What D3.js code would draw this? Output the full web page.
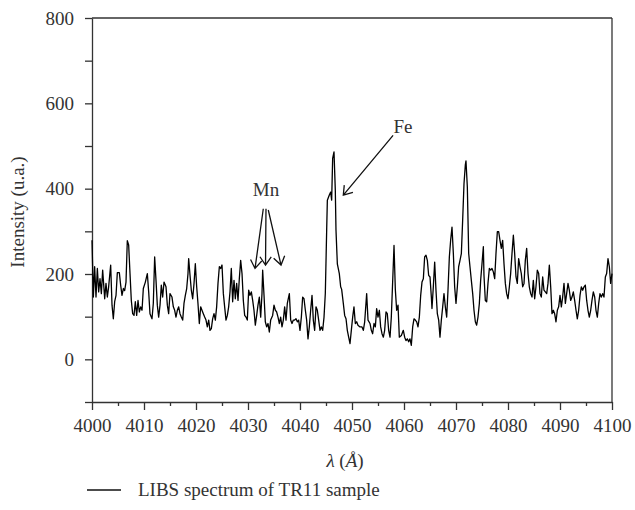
<!DOCTYPE html>
<html><head><meta charset="utf-8">
<script src="https://cdn.jsdelivr.net/npm/d3@7"></script>
<style>body{margin:0;background:#fff}</style>
</head><body>
<svg id="c" width="635" height="510"></svg>
<script>
const wavelength = [
4000.0,4000.26,4000.51,4000.77,4001.03,4001.28,4001.54,4001.8,4002.05,4002.44,4002.69,4002.95,4003.2,4003.59,4003.85,4004.1,4004.36,4004.62,4004.87,4005.26,4005.51,4005.77,4006.03,4006.28,4006.54,4006.79,4007.05,4007.31,4007.56,4007.82,4008.08,4008.33,4008.59,4008.85,4009.1,4009.36,4009.62,4009.87,4010.26,4010.64,4010.9,4011.15,4011.54,4011.79,4012.05,4012.31,4012.56,4012.82,4013.08,4013.33,4013.59,4013.85,4014.23,4014.49,4014.74,4015.0,4015.38,4015.64,4015.9,4016.15,4016.41,4016.67,4016.92,4017.18,4017.44,4017.69,4017.95,4018.21,4018.46,4018.59,4018.85,4019.1,4019.36,4019.62,4019.87,4020.13,4020.38,4020.64,4020.9,4021.15,4021.41,4021.67,4021.92,4022.18,4022.44,4022.69,4022.95,4023.2,4023.46,4023.72,4023.97,4024.23,4024.49,4024.74,4025.0,
4025.26,4025.51,4025.77,4026.03,4026.28,4026.54,4026.79,4027.05,4027.31,4027.56,4027.82,4028.08,4028.33,4028.59,4028.85,4029.1,4029.36,4029.62,4029.87,4030.13,4030.38,4030.64,4030.9,4031.15,4031.41,4031.67,4031.92,4032.18,4032.44,4032.69,4032.82,4033.08,4033.33,4033.59,4033.85,4034.1,4034.36,4034.74,4035.0,4035.26,4035.51,4035.77,4036.03,4036.28,4036.54,4036.79,4037.05,4037.31,4037.56,4037.95,4038.21,4038.46,4038.72,4038.97,4039.23,4039.49,4039.74,4040.0,4040.26,4040.51,4040.77,4041.03,4041.28,4041.54,4041.79,4042.05,4042.31,4042.56,4042.82,4043.08,4043.33,4043.59,4043.85,4044.1,4044.36,4044.62,4044.87,
4045.13,4045.26,4045.64,4045.9,4046.09,4046.28,4046.54,4046.79,4046.92,4047.18,4047.56,4047.82,4048.01,4048.33,4048.59,4048.85,4049.1,4049.36,4049.62,4049.87,4050.13,4050.38,4050.64,4050.9,4051.15,4051.54,4051.92,4052.18,4052.44,4052.82,4053.08,4053.46,4053.72,4053.97,4054.23,4054.49,4054.74,4055.0,4055.26,4055.51,4055.77,4056.03,4056.28,4056.54,4056.79,4057.05,4057.31,4057.56,4057.95,4058.08,4058.33,4058.59,4058.85,4059.1,4059.49,4059.87,4060.13,4060.38,4060.64,4060.9,4061.15,
4061.41,4061.67,4061.92,4062.18,4062.44,4062.69,4062.95,4063.21,4063.46,4063.72,4063.97,4064.23,4064.49,4064.74,4065.0,4065.26,4065.38,4065.64,4065.9,4066.15,4066.41,4066.67,4066.92,4067.18,4067.44,4067.69,4067.95,4068.21,4068.46,4068.72,4068.97,4069.23,4069.49,4069.74,4070.0,4070.26,4070.51,4070.77,4071.03,4071.28,4071.54,4071.79,4071.92,4072.18,4072.44,4072.69,4072.95,4073.21,4073.46,4073.72,4073.97,4074.23,4074.49,4074.74,4075.0,4075.26,
4075.38,4075.64,4075.9,4076.15,4076.41,4076.67,4076.92,4077.18,4077.44,4077.69,4077.95,4078.21,4078.46,4078.72,4078.97,4079.23,4079.49,4079.74,4080.0,4080.26,4080.51,4080.77,4081.03,4081.28,4081.54,4081.79,4082.05,4082.31,4082.56,4082.82,4083.08,4083.33,4083.59,4083.85,4084.1,4084.36,4084.62,4084.87,4085.13,4085.38,4085.64,4085.9,4086.15,4086.41,4086.67,4086.92,4087.18,4087.44,4087.69,4087.95,4088.21,4088.46,4088.72,4088.97,4089.23,4089.49,4089.74,4090.0,4090.26,4090.51,4090.77,4091.03,4091.28,4091.54,4091.79,4092.05,4092.31,4092.56,4092.82,4093.08,4093.33,4093.59,4093.85,4094.1,4094.36,4094.62,4094.87,4095.13,4095.38,4095.64,4095.9,4096.15,4096.41,4096.67,4096.92,4097.18,4097.44,4097.69,4097.95,4098.21,4098.46,4098.72,4098.97,4099.23,4099.49,4099.74,4100.0
];
const intensity = [
279,146,217,146,213,158,189,154,209,142,178,146,170,221,127,95,135,150,203,203,174,150,166,161,181,278,268,201,138,107,103,135,103,138,111,123,115,166,181,201,158,107,95,131,240,185,127,99,127,174,146,181,170,127,107,154,146,123,115,99,115,123,107,99,92,131,150,166,201,236,197,162,142,178,224,170,131,84,123,115,107,99,92,76,92,68,72,95,107,92,123,178,217,213,221,
154,123,92,103,123,158,213,135,185,142,178,138,189,232,201,138,103,99,92,162,150,158,138,115,80,103,127,146,99,154,209,150,88,76,84,64,92,103,127,115,111,99,84,99,76,92,123,92,131,154,92,84,92,92,95,88,92,68,99,146,142,115,92,48,76,115,150,92,68,123,115,92,68,76,68,99,155,
303,373,385,392,373,471,486,396,303,224,201,170,164,131,103,95,68,52,37,68,99,123,84,88,80,76,76,68,88,154,92,84,68,60,84,76,119,99,115,76,60,52,68,111,107,68,52,99,224,267,164,115,127,52,56,68,52,44,48,41,48,
33,76,95,92,88,76,99,150,181,189,240,244,232,197,193,146,119,170,228,162,107,92,52,92,123,154,123,99,162,240,279,310,248,170,131,170,217,232,248,326,412,455,465,404,248,217,185,154,115,88,80,99,131,185,224,264,
197,138,135,178,213,209,213,205,189,248,299,299,279,260,279,224,178,154,142,170,201,248,291,248,193,178,236,217,201,170,178,232,260,201,170,154,146,185,142,170,209,201,154,146,193,162,158,154,178,221,170,107,115,107,88,115,123,150,123,146,178,131,154,178,162,138,146,158,138,115,95,115,150,170,162,170,174,138,115,99,115,138,158,146,115,99,131,154,146,154,146,193,201,236,217,178,201
];
const xMajorTicks = [4000,4010,4020,4030,4040,4050,4060,4070,4080,4090,4100];
const xMinorTicks = [4005,4015,4025,4035,4045,4055,4065,4075,4085,4095];
const yTicks = [-100,0,100,200,300,400,500,600,700,800];
const yLabelTicks = [0,200,400,600,800];
const mnArrows = [
  {from:[4032.94,353], to:[4031.35,213]},
  {from:[4033.46,353], to:[4033.37,221]},
  {from:[4033.90,350], to:[4036.35,221]}
];
const feArrow = {from:[4057.9,525], to:[4048.33,385]};
const labels = [
  {text:"Mn", at:[4033.46,382]},
  {text:"Fe", at:[4059.8,530]}
];

const svg = d3.select("#c");
const x = d3.scaleLinear().domain([4000,4100]).range([92,612]);
const y = d3.scaleLinear().domain([-100,800]).range([402,18]);
const font = "'Liberation Serif','Times New Roman',serif";
const axisColor = "#333";
const textColor = "#333";
const fs = 19;

// frame top and right
svg.append("line").attr("x1",x(4000)).attr("x2",x(4100)).attr("y1",y(800)).attr("y2",y(800)).attr("stroke",axisColor).attr("stroke-width",1.3);
svg.append("line").attr("x1",x(4100)).attr("x2",x(4100)).attr("y1",y(800)).attr("y2",y(-100)).attr("stroke",axisColor).attr("stroke-width",1.3);

// left axis
svg.append("g").attr("transform",`translate(${x(4000)},0)`)
  .call(d3.axisLeft(y).tickValues(yTicks).tickSize(7).tickSizeOuter(0).tickPadding(11)
    .tickFormat(d => yLabelTicks.includes(d) ? d : ""));
// bottom axis major + minor
svg.append("g").attr("transform",`translate(0,${y(-100)})`)
  .call(d3.axisBottom(x).tickValues(xMajorTicks).tickSize(8).tickSizeOuter(0).tickPadding(9).tickFormat(d3.format("d")));
svg.append("g").attr("transform",`translate(0,${y(-100)})`)
  .call(d3.axisBottom(x).tickValues(xMinorTicks).tickSize(4).tickSizeOuter(0).tickFormat(""))
  .select(".domain").remove();
svg.selectAll(".tick line, .domain").attr("stroke",axisColor).attr("stroke-width",1.3);
svg.selectAll(".tick text").attr("font-family",font).attr("font-size",fs).attr("fill",textColor);

// spectrum
const pts = wavelength.map((w,i)=>[w,intensity[i]]);
svg.append("path").datum(pts)
  .attr("d", d3.line().x(d=>x(d[0])).y(d=>y(d[1])))
  .attr("fill","none").attr("stroke","#000").attr("stroke-width",1.3).attr("stroke-linejoin","round");

// arrows
function arrow(a){
  const x1=x(a.from[0]), y1=y(a.from[1]), x2=x(a.to[0]), y2=y(a.to[1]);
  const ang=Math.atan2(y1-y2,x1-x2), L=10, h=0.6;
  const p1=[x2+L*Math.cos(ang+h), y2+L*Math.sin(ang+h)];
  const p2=[x2+L*Math.cos(ang-h), y2+L*Math.sin(ang-h)];
  svg.append("path").attr("d",`M${x1},${y1}L${x2},${y2}M${p1[0]},${p1[1]}L${x2},${y2}L${p2[0]},${p2[1]}`)
    .attr("fill","none").attr("stroke","#111").attr("stroke-width",1.3);
}
mnArrows.forEach(arrow);
arrow(feArrow);
labels.forEach(l=>{
  svg.append("text").attr("x",x(l.at[0])).attr("y",y(l.at[1])).attr("text-anchor","middle")
    .attr("font-family",font).attr("font-size",fs).attr("fill",textColor).text(l.text);
});

// axis titles
const xt = svg.append("text").attr("x",345).attr("y",467).attr("text-anchor","middle")
  .attr("font-family",font).attr("font-size",fs).attr("fill",textColor);
xt.append("tspan").attr("font-style","italic").text("λ");
xt.append("tspan").text(" (");
xt.append("tspan").attr("font-style","italic").text("Å");
xt.append("tspan").text(")");
svg.append("text").attr("transform","translate(24,212) rotate(-90)").attr("text-anchor","middle")
  .attr("font-family",font).attr("font-size",fs).attr("fill",textColor).text("Intensity (u.a.)");

// legend
svg.append("line").attr("x1",87).attr("x2",121).attr("y1",490).attr("y2",490).attr("stroke","#111").attr("stroke-width",1.3);
svg.append("text").attr("x",138).attr("y",496).attr("font-family",font).attr("font-size",fs).attr("fill",textColor).text("LIBS spectrum of TR11 sample");
</script>
</body></html>
